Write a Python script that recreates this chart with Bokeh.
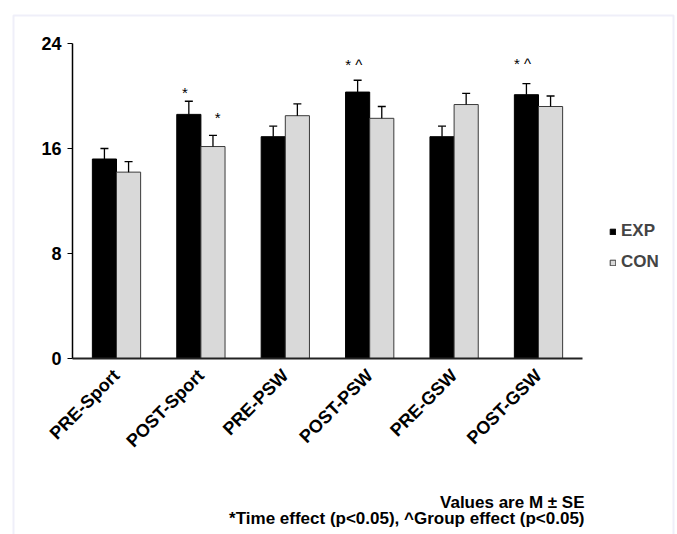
from bokeh.plotting import figure
from bokeh.models import (ColumnDataSource, Range1d, Whisker, TeeHead, Legend,
                          LegendItem, Label, FixedTicker, BoxAnnotation)
from bokeh.core.properties import value
from bokeh.embed import file_html
from bokeh.resources import INLINE
from math import pi

# ---- data ----
categories = ["PRE-Sport", "POST-Sport", "PRE-PSW", "POST-PSW", "PRE-GSW", "POST-GSW"]
exp_mean = [15.2, 18.6, 16.9, 20.3, 16.9, 20.1]
exp_se = [0.8, 1.0, 0.8, 0.9, 0.8, 0.85]
con_mean = [14.2, 16.15, 18.5, 18.3, 19.35, 19.2]
con_se = [0.8, 0.85, 0.9, 0.9, 0.85, 0.8]
y_ticks = [0, 8, 16, 24]

mark_cat = ["POST-Sport", "POST-Sport", "POST-PSW", "POST-GSW"]
mark_group = ["EXP", "CON", "EXP", "EXP"]
mark_text = ["*", "*", "* ^", "* ^"]
mark_y = [20.3, 18.4, 22.4, 22.5]

footer_1 = "Values are M ± SE"
footer_2 = "*Time effect (p<0.05), ^Group effect (p<0.05)"

# ---- layout constants (pixels) ----
FONT = "Liberation Sans"
W, H = 677, 534
PX_CAT = 84.4        # px per category
PX_UNIT = 13.125     # px per y unit
X0_PX = 116          # canvas x of first category centre
Y0_PX = 358          # canvas y of value 0
BAR_W = 0.286
OFF = 0.143
HALF = 0.5213        # axis extends this far beyond first/last category centre

x_start = -X0_PX / PX_CAT
x_end = x_start + W / PX_CAT
y_end = Y0_PX / PX_UNIT
y_start = y_end - H / PX_UNIT

idx = list(range(len(categories)))
src = ColumnDataSource(dict(
    exp_x=[i - OFF for i in idx],
    con_x=[i + OFF for i in idx],
    exp=exp_mean,
    exp_hi=[m + s for m, s in zip(exp_mean, exp_se)],
    con=con_mean,
    con_hi=[m + s for m, s in zip(con_mean, con_se)],
))

p = figure(x_range=Range1d(x_start, x_end), y_range=Range1d(y_start, y_end),
           width=W, height=H, output_backend="svg", toolbar_location=None,
           min_border_left=0, min_border_right=0, min_border_top=0, min_border_bottom=0)

r_exp = p.vbar(x="exp_x", top="exp", width=BAR_W, source=src,
               fill_color="black", line_color="black", line_width=1)
r_con = p.vbar(x="con_x", top="con", width=BAR_W, source=src,
               fill_color="#d9d9d9", line_color="#3a3a3a", line_width=1)

for xc, col, hi in (("exp_x", "exp", "exp_hi"), ("con_x", "con", "con_hi")):
    p.add_layout(Whisker(base=xc, lower=col, upper=hi, source=src, dimension="height",
                         line_color="black", line_width=1.3,
                         upper_head=TeeHead(size=8, line_color="black", line_width=1.3),
                         lower_head=None, level="glyph"))

for g, off in (("EXP", -0.19), ("CON", 0.2)):
    sel = [i for i, gg in enumerate(mark_group) if gg == g]
    s = ColumnDataSource(dict(x=[categories.index(mark_cat[i]) + off for i in sel],
                              y=[mark_y[i] for i in sel],
                              text=[mark_text[i] for i in sel]))
    p.text(x="x", y="y", text="text", source=s, text_font=value(FONT),
           text_font_size="15px", text_align="center", text_baseline="middle",
           text_color="black")

# axes
p.yaxis.fixed_location = -HALF
p.yaxis.bounds = (y_ticks[0], y_ticks[-1])
p.yaxis.ticker = FixedTicker(ticks=y_ticks)
p.yaxis.major_label_text_font = FONT
p.yaxis.major_label_text_font_size = "18px"
p.yaxis.major_label_text_font_style = "bold"
p.yaxis.major_label_text_color = "black"
p.yaxis.major_tick_out = 5
p.yaxis.major_tick_in = 0
p.yaxis.minor_tick_line_color = None
p.yaxis.major_label_standoff = 6
p.yaxis.axis_line_width = 1.5
p.yaxis.axis_line_color = "black"
p.yaxis.major_tick_line_color = "black"

p.xaxis.fixed_location = 0
p.xaxis.bounds = (-HALF, len(categories) - 1 + HALF)
p.xaxis.ticker = FixedTicker(ticks=idx)
p.xaxis.major_label_overrides = {i: c for i, c in zip(idx, categories)}
p.xaxis.major_label_orientation = pi / 4
p.xaxis.major_label_text_font = FONT
p.xaxis.major_label_text_font_size = "18px"
p.xaxis.major_label_text_font_style = "bold"
p.xaxis.major_label_text_color = "black"
p.xaxis.major_tick_line_color = None
p.xaxis.minor_tick_line_color = None
p.xaxis.major_label_standoff = 8
p.xaxis.axis_line_width = 2
p.xaxis.axis_line_color = "#222222"

p.xgrid.visible = False
p.ygrid.visible = False
p.outline_line_color = None

legend = Legend(items=[LegendItem(label="EXP", renderers=[r_exp]),
                       LegendItem(label="CON", renderers=[r_con])],
                location=(609, 262), glyph_width=7, glyph_height=7, label_standoff=5,
                spacing=11, label_height=20, padding=0, margin=0,
                border_line_color=None, background_fill_alpha=0,
                label_text_font=FONT, label_text_font_size="17px",
                label_text_font_style="bold")
p.add_layout(legend)

for txt, yy in ((footer_1, 32), (footer_2, 16)):
    p.add_layout(Label(x=584, y=yy, x_units="screen", y_units="screen", text=txt,
                       text_align="right", text_baseline="alphabetic",
                       text_font=FONT, text_font_size="17px", text_font_style="bold",
                       text_color="black"))

# light frame around the figure (open at the bottom)
p.add_layout(BoxAnnotation(left=13, right=673, top=15, bottom=H + 40,
                           left_units="canvas", right_units="canvas",
                           top_units="canvas", bottom_units="canvas",
                           fill_alpha=0, line_color="#c9c9ec", line_width=2,
                           level="underlay"))

open("out.html", "w").write(file_html(p, INLINE))
